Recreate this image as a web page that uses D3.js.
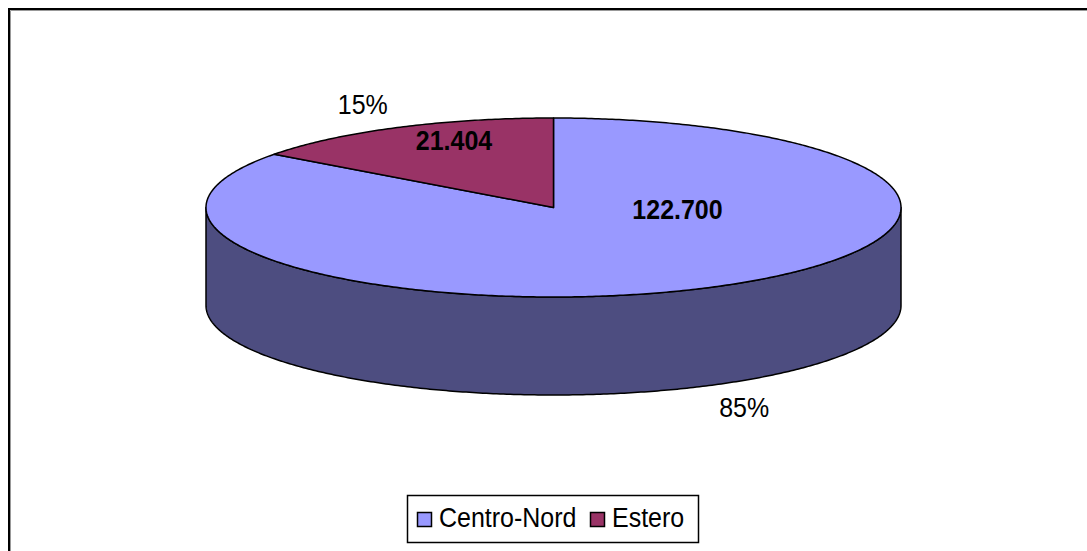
<!DOCTYPE html>
<html>
<head>
<meta charset="utf-8">
<script src="https://cdn.jsdelivr.net/npm/d3@7"></script>
<style>
  html, body { margin: 0; padding: 0; background: #fff; }
  svg { display: block; }
  text { font-family: "Liberation Sans", Arial, sans-serif; fill: #000; }
</style>
</head>
<body>
<script>
'use strict';

const categories = ['Centro-Nord', 'Estero'];
const values = [122700, 21404];
const valueLabels = ['122.700', '21.404'];
const percentLabels = ['85%', '15%'];
const topColors = ['#9999ff', '#993366'];
const sideColors = ['#4d4d80', '#4d1a33'];

function drawChart() {
  const width = 1087, height = 551;
  const cx = 553.5, cy = 207.5, rx = 347.5, ry = 89.5, depth = 98;

  const svg = d3.select('body').append('svg')
    .attr('width', width)
    .attr('height', height);

  // chart frame (cut off at the right and bottom)
  svg.append('rect')
    .attr('x', 9).attr('y', 9)
    .attr('width', 1200).attr('height', 700)
    .attr('fill', 'none').attr('stroke', '#000').attr('stroke-width', 2);
  svg.append('path')
    .attr('d', 'M10.5,1200V10.5H1200')
    .attr('fill', 'none').attr('stroke', '#999').attr('stroke-width', 1);

  const pie = d3.pie().sort(null).value((d) => d);
  const arcs = pie(values);

  const pt = (a, dy = 0) => [cx + rx * Math.sin(a), cy - ry * Math.cos(a) + dy];
  const line = d3.line();
  const steps = (a0, a1) => {
    const n = Math.max(2, Math.ceil((a1 - a0) / 0.01));
    return d3.range(n + 1).map((i) => a0 + (a1 - a0) * i / n);
  };

  // front side walls (visible between 90° and 270°)
  const g = svg.append('g');
  arcs.forEach((d, i) => {
    const a0 = Math.max(d.startAngle, Math.PI / 2);
    const a1 = Math.min(d.endAngle, Math.PI * 1.5);
    if (a1 <= a0) return;
    const as = steps(a0, a1);
    const pts = as.map((a) => pt(a)).concat(as.slice().reverse().map((a) => pt(a, depth)));
    g.append('path')
      .attr('d', line(pts) + 'Z')
      .attr('fill', sideColors[i])
      .attr('stroke', '#000').attr('stroke-width', 1.5)
      .attr('stroke-linejoin', 'round');
  });

  // top faces
  arcs.forEach((d, i) => {
    const pts = [[cx, cy]].concat(steps(d.startAngle, d.endAngle).map((a) => pt(a)));
    g.append('path')
      .attr('d', line(pts) + 'Z')
      .attr('fill', topColors[i])
      .attr('stroke', '#000').attr('stroke-width', 1.5)
      .attr('stroke-linejoin', 'round');
  });

  // value labels inside the slices
  const inside = [[124, 11.5], [-99.5, -57.5]];
  arcs.forEach((d, i) => {
    g.append('text')
      .attr('transform', `translate(${cx + inside[i][0]},${cy + inside[i][1]}) scale(1,1.1)`)
      .attr('text-anchor', 'middle')
      .attr('font-size', 25)
      .attr('font-weight', 'bold')
      .text(valueLabels[i]);
  });

  // percentage labels outside
  arcs.forEach((d, i) => {
    const mid = (d.startAngle + d.endAngle) / 2;
    const c = Math.cos(mid);
    const [x, y] = pt(mid);
    const lx = cx + (x - cx) * 1.22;
    const ly = cy + (y - cy) * 1.28 + (c < 0 ? depth : 0);
    g.append('text')
      .attr('transform', `translate(${lx},${ly + 9}) scale(1,1.1)`)
      .attr('text-anchor', 'middle')
      .attr('font-size', 25)
      .text(percentLabels[i]);
  });

  // legend
  const lg = svg.append('g').attr('transform', 'translate(407,495)');
  lg.append('rect')
    .attr('x', 0.5).attr('y', 0.5)
    .attr('width', 291).attr('height', 47)
    .attr('fill', '#fff').attr('stroke', '#000').attr('stroke-width', 1.5);
  const itemX = [10, 183];
  categories.forEach((c, i) => {
    lg.append('rect')
      .attr('x', itemX[i] + 0.5).attr('y', 17.5)
      .attr('width', 14).attr('height', 14)
      .attr('fill', topColors[i]).attr('stroke', '#000').attr('stroke-width', 1.5);
    lg.append('text')
      .attr('transform', `translate(${itemX[i] + 22},${32}) scale(1,1.1)`)
      .attr('font-size', 25)
      .text(c);
  });
}

drawChart();
</script>
</body>
</html>
